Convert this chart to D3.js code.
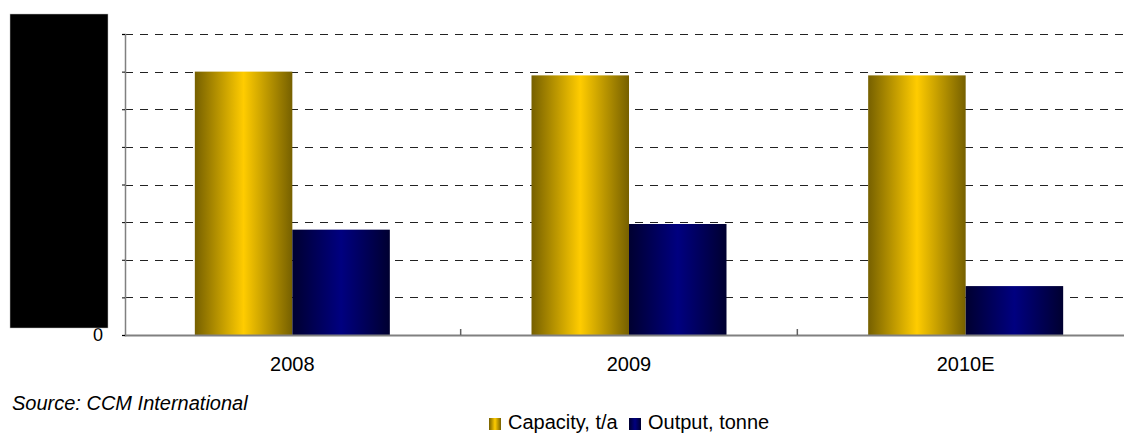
<!DOCTYPE html>
<html>
<head>
<meta charset="utf-8">
<script src="https://cdn.jsdelivr.net/npm/d3@7"></script>
<style>
  body { margin: 0; background: #fff; }
  svg { display: block; font-family: "Liberation Sans", Arial, sans-serif; }
</style>
</head>
<body>
<svg id="chart" width="1124" height="433"></svg>
<script>
// Data (values in gridline units; axis labels are blacked out in the source)
const years = ["2008", "2009", "2010E"];
const seriesNames = ["Capacity, t/a", "Output, tonne"];
const capacity = [7.0, 6.9, 6.9];
const output = [2.8, 2.95, 1.3];
const yTicks = [0, 1, 2, 3, 4, 5, 6, 7, 8];

const svg = d3.select("#chart");
const plot = { left: 124, right: 1134, top: 34, bottom: 335 };

const x = d3.scaleBand().domain(years).range([plot.left, plot.right]);
const inner = d3.scaleBand().domain(seriesNames).range([0, 195]);
const y = d3.scaleLinear().domain([0, 8]).range([plot.bottom, plot.top]);

// Gradients for the cylinder-like shading
const defs = svg.append("defs");
function grad(id, edge, mid) {
  const g = defs.append("linearGradient").attr("id", id)
    .attr("x1", "0%").attr("x2", "100%").attr("y1", "0%").attr("y2", "0%");
  g.append("stop").attr("offset", "0%").attr("stop-color", edge);
  g.append("stop").attr("offset", "50%").attr("stop-color", mid);
  g.append("stop").attr("offset", "100%").attr("stop-color", edge);
}
grad("gold", "#766000", "#ffcc00");
grad("navy", "#000030", "#000080");
const fills = ["url(#gold)", "url(#navy)"];

// Gridlines
svg.append("g").selectAll("line")
  .data(yTicks.filter(d => d > 0))
  .join("line")
  .attr("x1", plot.left + 1).attr("x2", 1123)
  .attr("y1", d => Math.round(y(d)) + 0.5).attr("y2", d => Math.round(y(d)) + 0.5)
  .attr("stroke", "#222").attr("stroke-width", 1)
  .attr("stroke-dasharray", "8,7");

// Bars
const groups = svg.append("g").selectAll("g")
  .data(years.map((yr, i) => ({ yr, vals: [capacity[i], output[i]] })))
  .join("g")
  .attr("transform", d => `translate(${x(d.yr) + (x.bandwidth() - 195) / 2},0)`);

groups.selectAll("rect")
  .data(d => d.vals.map((v, i) => ({ v, s: seriesNames[i], i })))
  .join("rect")
  .attr("x", d => inner(d.s))
  .attr("width", inner.bandwidth())
  .attr("y", d => y(d.v))
  .attr("height", d => y(0) - y(d.v))
  .attr("fill", d => fills[d.i]);

// Axes
const xAxis = d3.axisBottom(x).tickSize(0).tickPadding(22);
const gx = svg.append("g").attr("transform", `translate(0,${plot.bottom})`).call(xAxis);
gx.select(".domain").attr("stroke", "#808080").attr("stroke-width", 2);
gx.selectAll("text").attr("font-size", 20).attr("fill", "#000")
  .attr("font-family", "Liberation Sans, Arial, sans-serif");
// Category separators
svg.append("g").selectAll("line")
  .data(years.slice(1))
  .join("line")
  .attr("x1", d => x(d)).attr("x2", d => x(d))
  .attr("y1", plot.bottom).attr("y2", plot.bottom - 6)
  .attr("stroke", "#606060").attr("stroke-width", 1.5);

const yAxis = d3.axisLeft(y).tickValues(yTicks).tickSize(3).tickFormat(d => d === 0 ? "0" : "");
const gy = svg.append("g").attr("transform", `translate(${plot.left + 1},0)`).call(yAxis);
gy.select(".domain").attr("stroke", "#808080").attr("stroke-width", 1.5);
gy.selectAll(".tick line").attr("stroke", "#000");
gy.selectAll("text").attr("font-size", 18).attr("fill", "#000").attr("x", -22)
  .attr("dy", "0.3em")
  .attr("font-family", "Liberation Sans, Arial, sans-serif");

// Redaction box over the y-axis labels
svg.append("rect")
  .attr("x", 10).attr("y", 14).attr("width", 98).attr("height", 314)
  .attr("fill", "#000").attr("stroke", "#bbb").attr("stroke-width", 0.5);

// Source note
svg.append("text")
  .attr("x", 12).attr("y", 410)
  .attr("font-size", 20).attr("font-style", "italic")
  .text("Source: CCM International");

// Legend
const legendX = [489, 629];
const legend = svg.append("g").selectAll("g")
  .data(seriesNames)
  .join("g")
  .attr("transform", (d, i) => `translate(${legendX[i]},418)`);
legend.append("rect").attr("width", 12).attr("height", 12).attr("fill", (d, i) => fills[i]);
legend.append("text").attr("x", 19).attr("y", 11).attr("font-size", 20).text(d => d);
</script>
</body>
</html>
